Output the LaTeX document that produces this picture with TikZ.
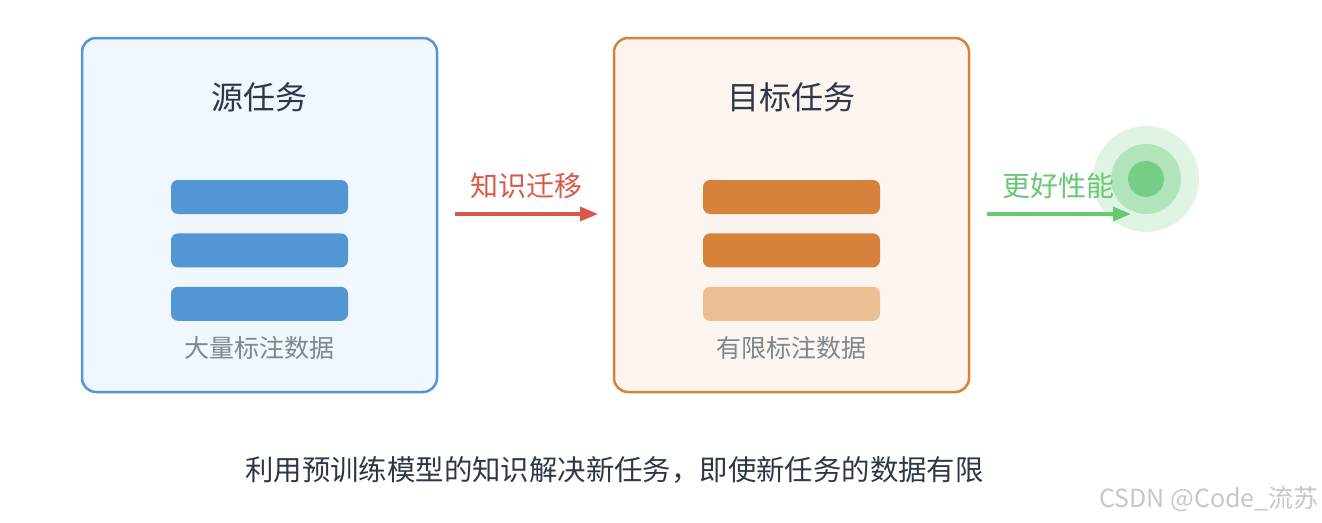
\documentclass[tikz,border=0pt]{standalone}
\usepackage{fontspec}
\setmainfont{Noto Sans CJK SC}
\usetikzlibrary{arrows.meta,positioning}
\definecolor{srcblue}{RGB}{82,150,212}
\definecolor{srcfill}{RGB}{240,247,254}
\definecolor{tgtorange}{RGB}{214,130,58}
\definecolor{tgtfill}{RGB}{253,245,240}
\definecolor{tgtlight}{RGB}{235,190,148}
\definecolor{transred}{RGB}{218,88,72}
\definecolor{gaingreen}{RGB}{104,200,116}
\definecolor{haloout}{RGB}{224,244,227}
\definecolor{halomid}{RGB}{178,228,188}
\definecolor{haloin}{RGB}{118,205,134}
\definecolor{titlegray}{RGB}{45,55,72}
\definecolor{notegray}{RGB}{125,135,140}

\begin{document}
\begin{tikzpicture}[x=1pt, y=-1pt,
    panel/.style={draw=#1, line width=2.5pt, rounded corners=14pt, minimum width=355pt, minimum height=354pt},
    bar/.style={fill=#1, rounded corners=7pt, minimum width=177pt, minimum height=34pt, inner sep=0pt},
    title/.style={font=\fontsize{32}{38}\selectfont, text=titlegray},
    note/.style={font=\fontsize{25}{30}\selectfont, text=notegray},
    tag/.style={font=\fontsize{28}{34}\selectfont, text=#1},
    arr/.style={draw=#1, line width=3.5pt, -{Triangle[length=18pt, width=14pt]}},
    halo/.style={circle, fill=#1, inner sep=0pt}
]
\useasboundingbox (0,0) rectangle (1322,522);

% source and target panels
\node[panel=srcblue, fill=srcfill] (src) at (259.5,215) {};
\node[panel=tgtorange, fill=tgtfill] (tgt) at (791.5,215) {};

\node[title] (srcT) at (259.5,97) {源任务};
\node[title] (tgtT) at (791.5,97) {目标任务};

\node[bar=srcblue] (s1) at (259.5,197) {};
\node[bar=srcblue, below=19pt of s1] (s2) {};
\node[bar=srcblue, below=19pt of s2] (s3) {};
\node[note] (srcN) at (259.5,348) {大量标注数据};

\node[bar=tgtorange] (t1) at (791.5,197) {};
\node[bar=tgtorange, below=19pt of t1] (t2) {};
\node[bar=tgtlight, below=19pt of t2] (t3) {};
\node[note] (tgtN) at (791.5,348) {有限标注数据};

% result marker
\node[halo=haloout, minimum size=106pt] (hOut) at (1146,179) {};
\node[halo=halomid, minimum size=70pt] (hMid) at (hOut.center) {};
\node[halo=haloin, minimum size=36pt] (hIn) at (hOut.center) {};

% transfer arrows
\coordinate (kA) at (455,214);
\coordinate (kB) at (598,214);
\draw[arr=transred] (kA) -- (kB);
\node[tag=transred] (kT) at (526,186) {知识迁移};

\coordinate (gA) at (987,214);
\coordinate (gB) at (1131,214);
\draw[arr=gaingreen] (gA) -- (gB);
\node[tag=gaingreen] (gT) at (1058,186) {更好性能};

\node[font=\fontsize{28.4}{34}\selectfont, text=titlegray] (cap) at (614.5,470) {利用预训练模型的知识解决新任务，即使新任务的数据有限};
\node[font=\fontsize{25}{30}\selectfont, text=black!22] (mark) at (1209,499) {CSDN @Code\_流苏};
\end{tikzpicture}
\end{document}
